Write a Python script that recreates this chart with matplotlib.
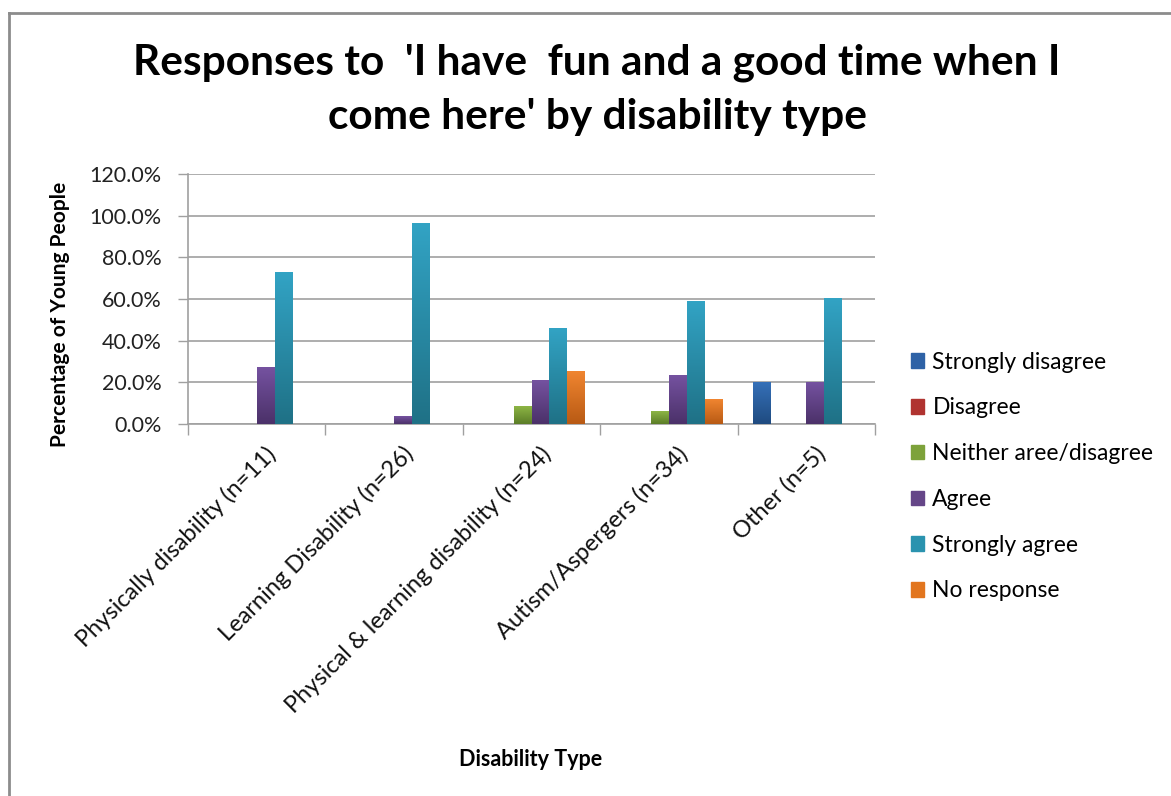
import matplotlib
matplotlib.use("Agg")
import matplotlib.pyplot as plt
import numpy as np
from matplotlib.colors import LinearSegmentedColormap
from matplotlib.patches import Rectangle
from matplotlib.lines import Line2D

plt.rcParams["font.family"] = ["Lato", "DejaVu Sans"]

categories = ["Physically disability (n=11)", "Learning Disability (n=26)",
              "Physical & learning disability (n=24)", "Autism/Aspergers (n=34)",
              "Other (n=5)"]
series_names = ["Strongly disagree", "Disagree", "Neither aree/disagree",
                "Agree", "Strongly agree", "No response"]
strongly_disagree = [0.0, 0.0, 0.0, 0.0, 20.0]
disagree = [0.0, 0.0, 0.0, 0.0, 0.0]
neither = [0.0, 0.0, 8.3, 5.9, 0.0]
agree = [27.3, 3.8, 20.8, 23.5, 20.0]
strongly_agree = [72.7, 96.2, 45.8, 58.8, 60.0]
no_response = [0.0, 0.0, 25.0, 11.8, 0.0]

colors = ["#2E62A6", "#B03330", "#7DA23A", "#654688", "#2A93AF", "#E2761F"]
tops = ["#3570B8", "#C23D3A", "#8DB545", "#7552A0", "#32A3C4", "#F08530"]
bottoms = ["#1F4B80", "#8a2725", "#5B7D27", "#4B3169", "#1F7186", "#B85A14"]

series = [strongly_disagree, disagree, neither, agree, strongly_agree, no_response]

fig = plt.figure(figsize=(11.71, 7.96), dpi=100)
ax = fig.add_axes([188 / 1171, 1 - 424 / 796, (875 - 188) / 1171, 250 / 796])

x = np.arange(len(categories))
w = 0.13
grad = np.linspace(0, 1, 100).reshape(-1, 1)
for i, (vals, name) in enumerate(zip(series, series_names)):
    bars = ax.bar(x + (i - 2.5) * w, vals, w, color=colors[i], label=name,
                  edgecolor="none", zorder=3)
    cmap = LinearSegmentedColormap.from_list(f"g{i}", [bottoms[i], tops[i]])
    for b in bars:
        h = b.get_height()
        if h <= 0:
            continue
        ax.imshow(grad, extent=[b.get_x(), b.get_x() + b.get_width(), 0, h],
                  origin="lower", cmap=cmap, aspect="auto", zorder=4)

ax.set_xlim(-0.5, len(categories) - 0.5)
ax.set_ylim(0, 120)
ax.set_yticks(np.arange(0, 121, 20))
ax.set_yticklabels([f"{v:.1f}%" for v in np.arange(0, 121, 20)], fontsize=15.5,
                   color="#222222")
ax.yaxis.grid(True, color="#a0a0a0", lw=1.2, zorder=0)
ax.set_axisbelow(True)

# category boundaries as tick marks
ax.set_xticks(np.arange(-0.5, len(categories), 1.0))
ax.set_xticklabels([])
ax.tick_params(axis="x", length=8, color="#a0a0a0", width=1)
ax.tick_params(axis="y", length=7, color="#a0a0a0", width=1, pad=12)
for i, lab in enumerate(categories):
    ax.text(i + 0.06, -9, lab, rotation=45, ha="right", va="top",
            rotation_mode="anchor", fontsize=17, color="#111111",
            transform=ax.transData)

for s in ["top", "right"]:
    ax.spines[s].set_visible(False)
for s in ["left", "bottom"]:
    ax.spines[s].set_color("#a0a0a0")
    ax.spines[s].set_linewidth(1.2)

fig.text(60 / 1171, 1 - 314 / 796, "Percentage of Young People", rotation=90,
         ha="center", va="center", fontsize=15, fontweight="bold")
fig.text(531 / 1171, 1 - 760 / 796, "Disability Type", ha="center", va="center",
         fontsize=15.5, fontweight="bold")

fig.text(597 / 1171, 1 - 63 / 796, "Responses to  'I have  fun and a good time when I",
         ha="center", va="center", fontsize=30.5, fontweight="bold")
fig.text(597 / 1171, 1 - 117 / 796, "come here' by disability type",
         ha="center", va="center", fontsize=30.5, fontweight="bold")

handles = [Rectangle((0, 0), 1, 1, color=c) for c in colors]
fig.legend(handles, series_names, loc="upper left",
           bbox_to_anchor=(890 / 1171, 1 - 331 / 796), frameon=False,
           fontsize=16.5, handlelength=0.6, handleheight=0.6, handletextpad=0.35,
           labelspacing=1.08)

# outer chart border (top and left visible)
fig.add_artist(Line2D([9 / 1171, 9 / 1171], [0, 1 - 13 / 796],
                      transform=fig.transFigure, color="#8c8c8c", lw=2))
fig.add_artist(Line2D([9 / 1171, 1], [1 - 13 / 796, 1 - 13 / 796],
                      transform=fig.transFigure, color="#8c8c8c", lw=2))

fig.savefig("out.png", dpi=100)
